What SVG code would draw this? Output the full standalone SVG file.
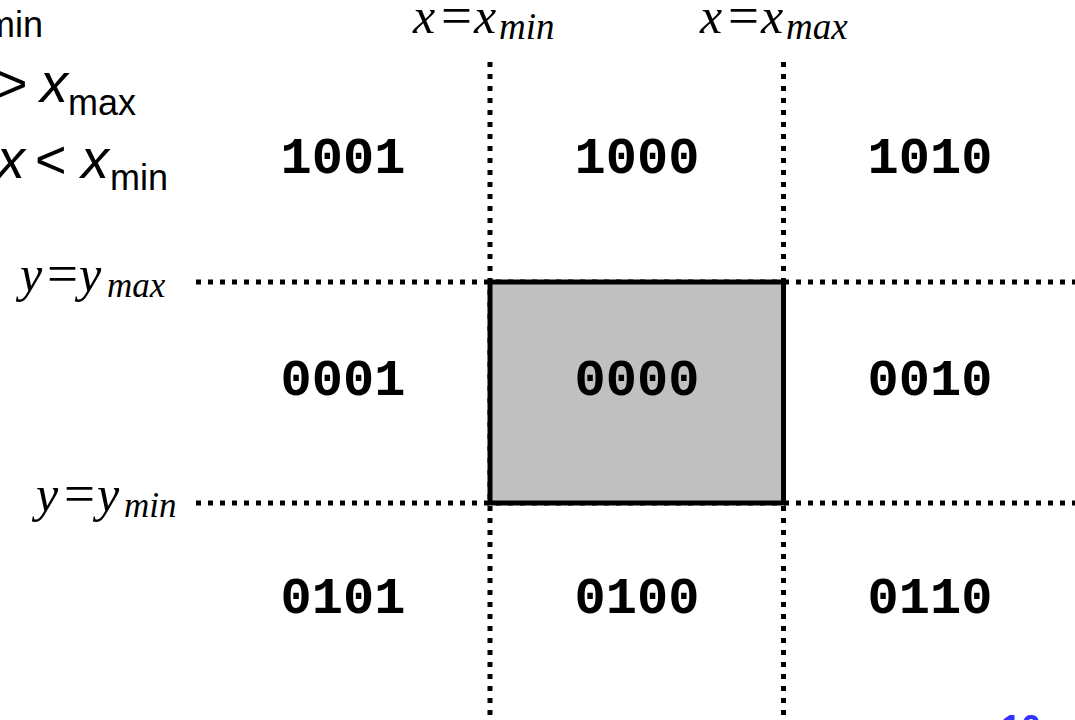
<svg xmlns="http://www.w3.org/2000/svg" width="1075" height="720" viewBox="0 0 1075 720">
<style>
.sans{font-family:"Liberation Sans",Arial,sans-serif;fill:#000}
.it{font-style:italic}
.serif{font-family:"Liberation Serif","Times New Roman",serif;font-style:italic;fill:#000}
.eq{font-family:"Liberation Serif","Times New Roman",serif;fill:#000;font-size:55px}
.code{font-family:"Liberation Mono","Courier New",monospace;font-weight:bold;font-size:52px;fill:#000;text-anchor:middle}
.dot{stroke:#000;stroke-width:5;stroke-dasharray:5 7;fill:none}
</style>
<rect width="1075" height="720" fill="#fff"/>
<g id="conditions">
<text class="sans" x="43" y="37" font-size="36" text-anchor="end">min</text>
<text class="sans" x="-4" y="102" font-size="54">&gt;</text>
<text class="sans it" x="40" y="102" font-size="56">x</text>
<text class="sans" x="68" y="115" font-size="36">max</text>
<text class="sans it" x="-3" y="178" font-size="56">x</text>
<text class="sans" x="35" y="178" font-size="54">&lt;</text>
<text class="sans it" x="81" y="178" font-size="56">x</text>
<text class="sans" x="110" y="190" font-size="36">min</text>
</g>
<g id="connectors">
<line class="dot" x1="490" y1="62" x2="490" y2="720"/>
<line class="dot" x1="783.5" y1="62" x2="783.5" y2="720"/>
<line class="dot" x1="196" y1="282" x2="1075" y2="282"/>
<line class="dot" x1="196" y1="503" x2="1075" y2="503"/>
</g>
<g id="window">
<rect x="490" y="282" width="293.5" height="221" fill="#c0c0c0" stroke="#000" stroke-width="5"/>
</g>
<g id="labels">
<text class="serif" x="413" y="33" font-size="50">x</text>
<text class="eq" x="441" y="34">=</text>
<text class="serif" x="474" y="33" font-size="50">x</text>
<text class="serif" x="499" y="39" font-size="37">min</text>
<text class="serif" x="700" y="33" font-size="50">x</text>
<text class="eq" x="728" y="34">=</text>
<text class="serif" x="761" y="33" font-size="50">x</text>
<text class="serif" x="786" y="39" font-size="37">max</text>
<text class="serif" x="20" y="291" font-size="50">y</text>
<text class="eq" x="47" y="292">=</text>
<text class="serif" x="79" y="291" font-size="50">y</text>
<text class="serif" x="107" y="297" font-size="35">max</text>
<text class="serif" x="36" y="511" font-size="50">y</text>
<text class="eq" x="64" y="512">=</text>
<text class="serif" x="97" y="511" font-size="50">y</text>
<text class="serif" x="124" y="517" font-size="35">min</text>
</g>
<g id="r1001"><text class="code" x="343" y="173">1001</text></g>
<g id="r1000"><text class="code" x="637" y="173">1000</text></g>
<g id="r1010"><text class="code" x="930" y="173">1010</text></g>
<g id="r0001"><text class="code" x="343" y="395">0001</text></g>
<g id="r0000"><text class="code" x="637" y="395">0000</text></g>
<g id="r0010"><text class="code" x="930" y="395">0010</text></g>
<g id="r0101"><text class="code" x="343" y="613">0101</text></g>
<g id="r0100"><text class="code" x="637" y="613">0100</text></g>
<g id="r0110"><text class="code" x="930" y="613">0110</text></g>
<g id="pagenum"><text class="sans" x="1001" y="741" font-size="36" font-weight="bold" style="fill:#3333ff">10</text></g>
</svg>
